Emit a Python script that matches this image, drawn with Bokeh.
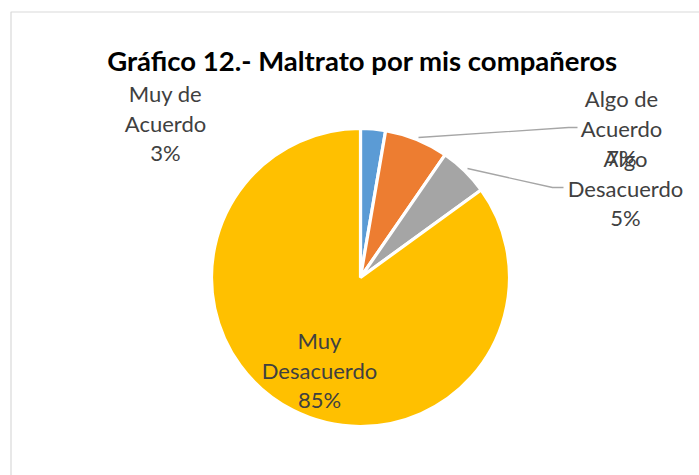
import math
from bokeh.plotting import figure
from bokeh.models import Range1d
from bokeh.core.properties import value
from bokeh.embed import file_html
from bokeh.resources import INLINE

# Data
categories = ["Muy de Acuerdo", "Algo de Acuerdo", "Algo Desacuerdo", "Muy Desacuerdo"]
shares = [2.7, 6.9, 5.4, 85.0]
colors = ["#5b9bd5", "#ed7d31", "#a5a5a5", "#ffc000"]
label_lines = [["Muy de", "Acuerdo"], ["Algo de", "Acuerdo"], ["Algo", "Desacuerdo"], ["Muy", "Desacuerdo"]]
title_text = "Gráfico 12.- Maltrato por mis compañeros"

W, H = 699, 475
p = figure(width=W, height=H, x_range=Range1d(0, W), y_range=Range1d(0, H),
           x_axis_type=None, y_axis_type=None, min_border=0,
           output_backend="svg", toolbar_location=None)
p.grid.visible = False
p.outline_line_color = None
p.background_fill_color = "white"
p.border_fill_color = "white"

# chart frame (left/top visible)
p.line(x=[10.5, 10.5, W + 10], y=[-10, 463.5, 463.5], line_color="#d9d9d9", line_width=1.2)

cx, cy, r = 360, 198, 149
total = sum(shares)
starts, ends = [], []
cum = 0.0
for s in shares:
    starts.append(math.pi / 2 - 2 * math.pi * cum / total)
    cum += s
    ends.append(math.pi / 2 - 2 * math.pi * cum / total)

p.wedge(x=[cx] * 4, y=[cy] * 4, radius=r, start_angle=starts, end_angle=ends,
        direction="clock", fill_color=colors, line_color="white", line_width=3.2)

# leader lines
p.line(x=[418, 568, 577], y=[338, 348, 348], line_color="#a6a6a6", line_width=1.3)
p.line(x=[467, 552, 563], y=[307, 288, 288], line_color="#a6a6a6", line_width=1.3)

# labels
anchors = [(165, 382), (621, 377), (625, 317), (319, 135)]
spacing = 29.5
lx, ly, lt = [], [], []
for i, (lines, (ax, ay)) in enumerate(zip(label_lines, anchors)):
    texts = lines + [f"{round(shares[i] / total * 100)}%"]
    for j, t in enumerate(texts):
        lx.append(ax)
        ly.append(ay - j * spacing)
        lt.append(t)
p.text(x=lx, y=ly, text=lt, text_align="center", text_baseline="alphabetic",
       text_font=value("Lato"), text_font_size="22px", text_color="#404040")

p.text(x=[362], y=[415], text=[title_text], text_align="center", text_baseline="alphabetic",
       text_font=value("Lato"), text_font_style="bold", text_font_size="27.5px", text_color="#000000")

open("out.html", "w").write(file_html(p, INLINE))
